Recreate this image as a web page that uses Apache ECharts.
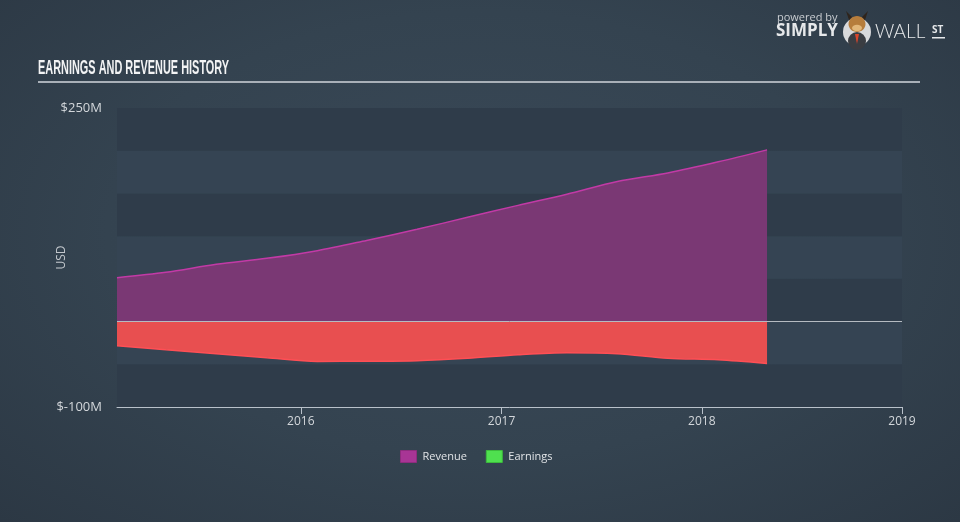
<!DOCTYPE html>
<html>
<head>
<meta charset="utf-8">
<script src="https://cdn.jsdelivr.net/npm/echarts@6/dist/echarts.min.js"></script>
<style>
html,body{margin:0;padding:0;width:960px;height:522px;overflow:hidden;}
body{background:radial-gradient(ellipse at 50% 45%, #3a4958 0%, #344350 55%, #2c3844 100%);}
#c{width:960px;height:522px;}
</style>
</head>
<body>
<div id="c"></div>
<script>
// Quarterly (trailing twelve months) report dates
var dates = ['2015-01-31','2015-04-30','2015-07-31','2015-10-31','2016-01-31','2016-04-30','2016-07-31','2016-10-31','2017-01-31','2017-04-30','2017-07-31','2017-10-31','2018-01-31','2018-04-30'];
// Values in $M
var revenue = [51.3, 57.6, 67, 74, 83, 95, 108, 122, 136, 149, 164, 174, 187, 201];
var earnings = [-28.2, -33, -37.6, -42.3, -46.6, -46.4, -45.8, -43, -38.8, -36.4, -37.6, -42.9, -44.7, -49];
var xAxisEnd = '2019-01-01';
var yLabelValues = [-100, 250];

function ts(s){var p=s.split('-');return Date.UTC(+p[0],+p[1]-1,+p[2]);}
var revData = dates.map(function(d,i){return [ts(d), revenue[i]];});
var earnData = dates.map(function(d,i){return [ts(d), earnings[i]];});
var YEAR = 365*24*3600*1000;

var chart = echarts.init(document.getElementById('c'), null, {renderer:'canvas'});
var font = '"Open Sans", "DejaVu Sans", sans-serif';
chart.setOption({
  useUTC: true,
  backgroundColor: 'transparent',
  animation: false,
  grid: {left:117, right:58, top:108, bottom:115},
  xAxis: {
    type: 'time',
    min: ts(dates[0]),
    max: ts(xAxisEnd),
    minInterval: YEAR, maxInterval: YEAR,
    axisLine: {show:true, onZero:false, lineStyle:{color:'#b9c1ca', width:1}},
    axisTick: {show:true, length:7, lineStyle:{color:'#b9c1ca'}},
    minorTick: {show:false},
    axisLabel: {
      color:'#d3d7db', fontSize:12, fontFamily:font, margin:9,
      showMinLabel:false, showMaxLabel:true,
      formatter: '{yyyy}'
    },
    splitLine: {show:false}
  },
  yAxis: {
    type: 'value',
    min: -100, max: 250, interval: 50,
    name: 'USD', nameLocation: 'middle', nameGap: 49, nameRotate: 90, nameMoveOverlap: false,
    nameTextStyle: {color:'#c3c8cd', fontSize:12, fontFamily:font},
    axisLine: {show:false},
    axisTick: {show:false},
    axisLabel: {
      color:'#d3d7db', fontSize:13, fontFamily:font, margin:15,
      customValues: yLabelValues,
      formatter: function(v){return '$' + v + 'M';}
    },
    splitLine: {show:false},
    splitArea: {show:true, areaStyle:{color:['#2f3c4a','#354453']}}
  },
  legend: {
    left: 400, top: 450, padding: 0,
    itemWidth: 16, itemHeight: 12, itemGap: 19,
    icon: 'rect',
    textStyle: {color:'#e0e3e6', fontSize:11, fontFamily:font, padding:[0,0,0,1]},
    data: [
      {name:'Revenue', itemStyle:{color:'#a83595', borderColor:'#8e2c7e', borderWidth:1}},
      {name:'Earnings', itemStyle:{color:'#4fe04f', borderColor:'#3cbc3c', borderWidth:1}}
    ]
  },
  series: [
    {
      name: 'Revenue', type: 'line', data: revData,
      smooth: 0.3, showSymbol: false, symbol: 'none',
      itemStyle: {color:'#a83595'},
      lineStyle: {color:'#c23aa6', width:1.5},
      areaStyle: {color:'#7a3874', opacity:1},
      z: 2
    },
    {
      name: 'Earnings', type: 'line', data: earnData,
      smooth: 0.3, showSymbol: false, symbol: 'none',
      itemStyle: {color:'#4fe04f'},
      lineStyle: {color:'#ff4f55', width:1.5},
      areaStyle: {color:'#e84f50', opacity:1},
      z: 3,
      markLine: {
        silent: true, symbol: ['none','none'], label:{show:false},
        lineStyle: {color:'#b5bbc1', width:1, type:'solid'},
        data: [{yAxis: 0}]
      }
    }
  ],
  graphic: [
    {type:'text', left:38, top:58, scaleX:0.52,
     style:{text:'EARNINGS AND REVENUE HISTORY', fill:'#f2f3f4', font:'bold 21px "Liberation Sans Narrow", "Liberation Sans", sans-serif'}},
    {type:'rect', shape:{x:38, y:81, width:882, height:2}, style:{fill:'#a9b0b8'}},
    {type:'text', left:777, top:12, style:{text:'powered by', fill:'#c9cdd1', font:'11px "Open Sans", sans-serif'}},
    {type:'text', left:776, top:23, style:{text:'SIMPLY', fill:'#e6e8ea', font:'bold 17px "Open Sans", sans-serif'}},
    {type:'circle', shape:{cx:857, cy:32, r:14}, style:{fill:'#d8d9db'}},
    {type:'circle', shape:{cx:857, cy:41, r:9}, style:{fill:'#3a3d42'}},
    {type:'polygon', shape:{points:[[855,34],[859,34],[857,44]]}, style:{fill:'#d8462c'}},
    {type:'ellipse', shape:{cx:857, cy:24, rx:8.5, ry:8}, style:{fill:'#b67d3c'}},
    {type:'ellipse', shape:{cx:857, cy:28, rx:5, ry:3.2}, style:{fill:'#e2b77a'}},
    {type:'polygon', shape:{points:[[849,20],[846,11],[852,17]]}, style:{fill:'#2e241c'}},
    {type:'polygon', shape:{points:[[865,20],[868,11],[862,17]]}, style:{fill:'#2e241c'}},
    {type:'text', left:875, top:22, style:{text:'WALL', fill:'#e6e8ea', font:'300 19px Lato, "Open Sans", sans-serif'}},
    {type:'text', left:932, top:25, style:{text:'ST', fill:'#e6e8ea', font:'bold 10px "Open Sans", sans-serif'}},
    {type:'rect', shape:{x:932, y:37, width:13, height:1.5}, style:{fill:'#e6e8ea'}}
  ]
});
</script>
</body>
</html>
